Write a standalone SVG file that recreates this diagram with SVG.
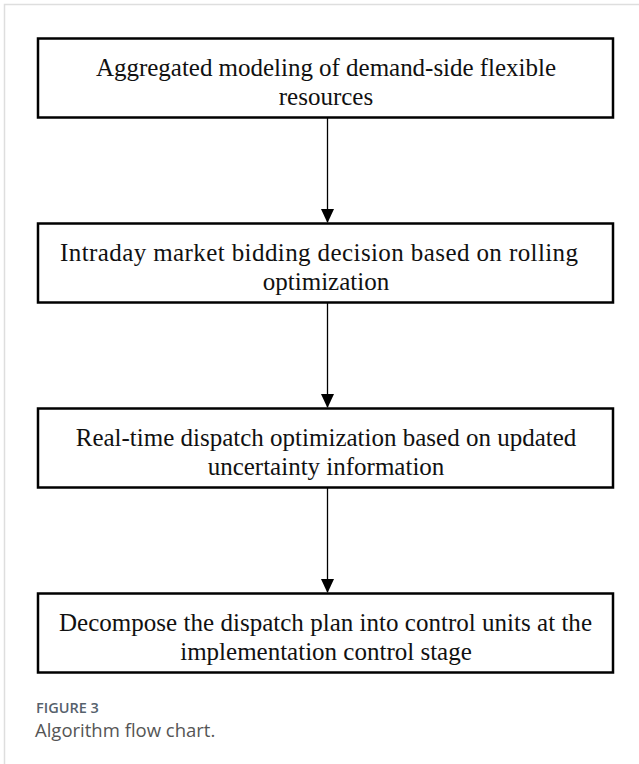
<svg xmlns="http://www.w3.org/2000/svg" width="639" height="764" viewBox="0 0 639 764">
<defs>
<style>
.box{fill:#fff;stroke:#000;stroke-width:2.5}
.t{font-family:"Liberation Serif","Times New Roman",serif;font-size:25px;fill:#111;text-anchor:middle}
.conn{stroke:#000;stroke-width:1.3;fill:none}
.cap1{font-family:"Open Sans","Noto Sans",sans-serif;font-size:14.5px;fill:#56616c;font-weight:600}
.cap2{font-family:"Open Sans","Noto Sans",sans-serif;font-size:18.5px;fill:#555}
</style>
<marker id="ah" markerWidth="14" markerHeight="15" refX="14" refY="7" orient="auto" markerUnits="userSpaceOnUse" viewBox="0 0 15 14">
<path d="M0,0 L15,7 L0,14 Z" fill="#000"/>
</marker>
</defs>
<rect width="639" height="764" fill="#fff"/>
<rect x="4.5" y="4.5" width="700" height="800" fill="none" stroke="#dedede" stroke-width="1.5"/>
<g id="connectors">
<line class="conn" x1="327.5" y1="117" x2="327.5" y2="222" marker-end="url(#ah)"/>
<line class="conn" x1="327.5" y1="302" x2="327.5" y2="407" marker-end="url(#ah)"/>
<line class="conn" x1="327.5" y1="487" x2="327.5" y2="592" marker-end="url(#ah)"/>
</g>
<g id="node1">
<rect class="box" x="38" y="38.5" width="575" height="79"/>
<text class="t" x="326" y="76" textLength="460" lengthAdjust="spacing">Aggregated  modeling of demand-side  flexible</text>
<text class="t" x="326" y="105">resources</text>
</g>
<g id="node2">
<rect class="box" x="38" y="223.5" width="575" height="79"/>
<text class="t" x="319" y="261" textLength="518" lengthAdjust="spacing">Intraday  market bidding decision based on rolling</text>
<text class="t" x="326" y="290">optimization</text>
</g>
<g id="node3">
<rect class="box" x="38" y="408.5" width="575" height="79"/>
<text class="t" x="326" y="446">Real-time dispatch optimization based on updated</text>
<text class="t" x="326" y="475">uncertainty information</text>
</g>
<g id="node4">
<rect class="box" x="38" y="593.5" width="575" height="79"/>
<text class="t" x="325.5" y="631" textLength="533" lengthAdjust="spacing">Decompose the dispatch plan into control units at the</text>
<text class="t" x="326" y="660">implementation control stage</text>
</g>
<g id="caption">
<text class="cap1" x="36" y="713">FIGURE 3</text>
<text class="cap2" x="35" y="737">Algorithm flow chart.</text>
</g>
</svg>
